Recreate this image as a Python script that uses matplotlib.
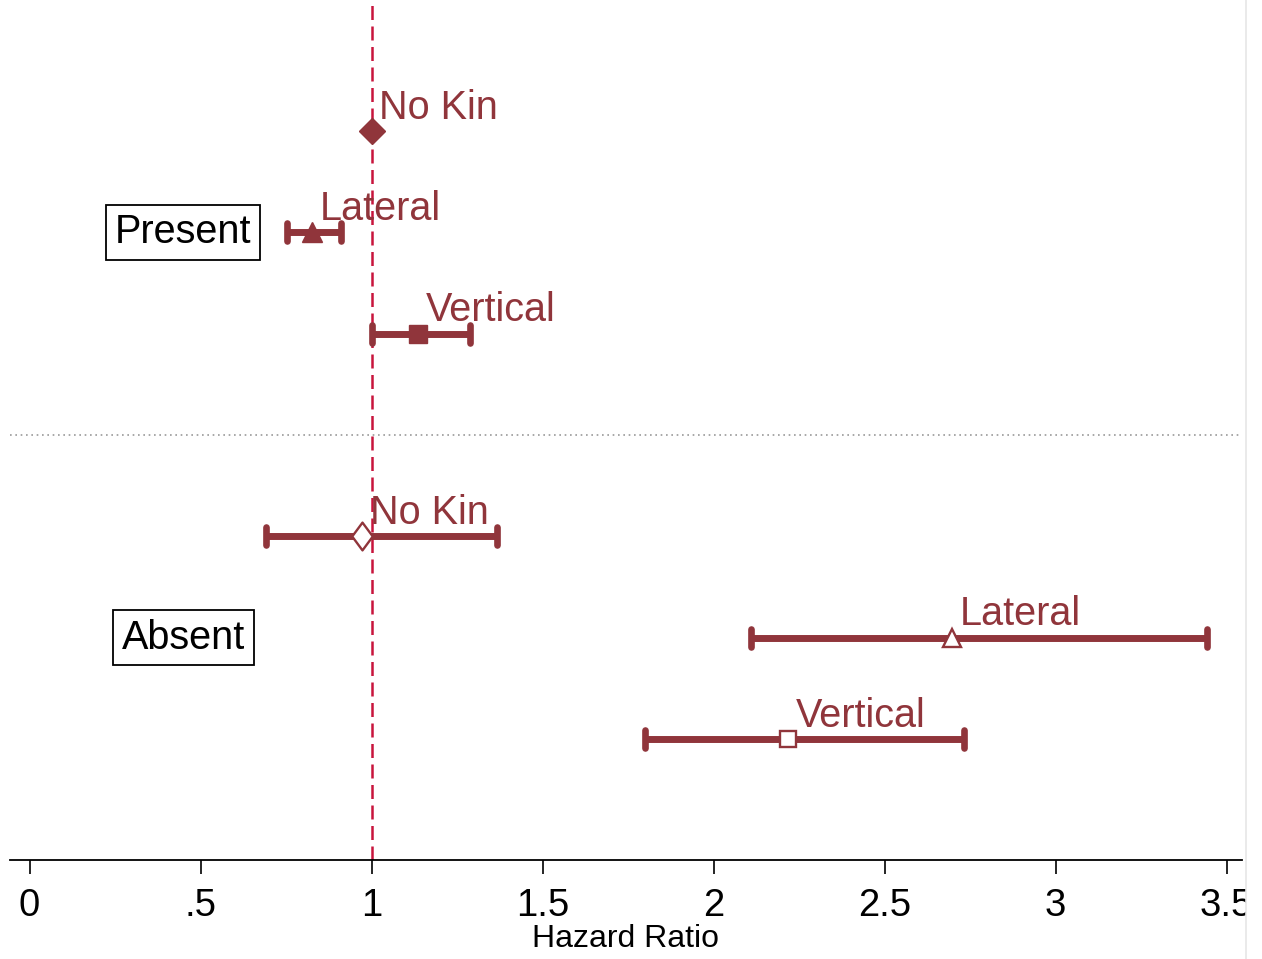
import matplotlib
matplotlib.use("Agg")
import matplotlib.pyplot as plt
from matplotlib.markers import MarkerStyle
from matplotlib.path import Path
from matplotlib.lines import Line2D
from matplotlib.patches import Rectangle
import numpy as np

plt.rcParams['font.family'] = ['Liberation Sans', 'DejaVu Sans']

# ---- data ----
groups = ["Present", "Present", "Present", "Absent", "Absent", "Absent"]
kin_types = ["No Kin", "Lateral", "Vertical", "No Kin", "Lateral", "Vertical"]
hazard_ratio = [1.0, 0.826, 1.136, 0.972, 2.697, 2.218]
ci_low = [np.nan, 0.753, 1.001, 0.691, 2.109, 1.800]
ci_high = [np.nan, 0.911, 1.288, 1.367, 3.443, 2.732]
row_pos = [7, 6, 5, 3, 2, 1]
group_labels = ["Present", "Absent"]
group_label_rows = [6, 2]
separator_row = 4
xticks = [0, 0.5, 1, 1.5, 2, 2.5, 3, 3.5]
xtick_labels = ["0", ".5", "1", "1.5", "2", "2.5", "3", "3.5"]

# ---- style ----
W, H = 1262, 959
col = "#90353B"
ref_col = "#C8143C"
diamond_thin = Path([(0, 1), (0.74, 0), (0, -1), (-0.74, 0), (0, 1)],
                    [Path.MOVETO, Path.LINETO, Path.LINETO, Path.LINETO, Path.CLOSEPOLY])
marker_specs = {
    ("Present", "No Kin"): dict(marker="D", ms=13.5, mfc=col, mec=col, mew=1),
    ("Present", "Lateral"): dict(marker="^", ms=14, mfc=col, mec=col, mew=1),
    ("Present", "Vertical"): dict(marker="s", ms=13, mfc=col, mec=col, mew=1),
    ("Absent", "No Kin"): dict(marker=diamond_thin, ms=20, mfc="white", mec=col, mew=1.7),
    ("Absent", "Lateral"): dict(marker="^", ms=13, mfc="white", mec=col, mew=1.7),
    ("Absent", "Vertical"): dict(marker="s", ms=12, mfc="white", mec=col, mew=1.7),
}

fig = plt.figure(figsize=(W / 100, H / 100), dpi=100)
ax = fig.add_axes([10 / W, 1 - 860 / H, (1242 - 10) / W, 860 / H])
ax.set_xlim((10 - 29.5) / 342, (1242 - 29.5) / 342)
ax.set_ylim(-0.194, 8.293)

# reference line
ax.axvline(1, color=ref_col, lw=1.8, linestyle=(0, (5.6, 2.6)), zorder=1)
# separator
ax.axhline(separator_row, color="#9A9A9A", lw=1.2, linestyle=(0, (1, 2.2)), zorder=1)

cap_marker = MarkerStyle("|", capstyle="round")
for g, k, hr, lo, hi, y in zip(groups, kin_types, hazard_ratio, ci_low, ci_high, row_pos):
    if not np.isnan(lo):
        ax.plot([lo, hi], [y, y], color=col, lw=5, solid_capstyle="butt", zorder=2)
        ax.plot([lo, hi], [y, y], linestyle="none", marker=cap_marker, ms=12.5,
                mew=4.8, mec=col, zorder=2)
    spec = marker_specs[(g, k)]
    ax.plot([hr], [y], linestyle="none", marker=spec["marker"], ms=spec["ms"],
            mfc=spec["mfc"], mec=spec["mec"], mew=spec["mew"], zorder=3)
    ax.annotate(k, (hr, y), xytext=(5.5, 9), textcoords="offset points",
                ha="left", va="baseline", fontsize=28.5, color=col, zorder=4)

for lab, y in zip(group_labels, group_label_rows):
    ax.text(0.45, y, lab, ha="center", va="center", fontsize=28.5, color="black",
            bbox=dict(boxstyle="square,pad=0.22", fc="white", ec="black", lw=1.3),
            zorder=5)

for s in ["left", "top", "right"]:
    ax.spines[s].set_visible(False)
ax.spines["bottom"].set_linewidth(1.3)
ax.set_yticks([])
ax.set_xticks(xticks)
ax.set_xticklabels(xtick_labels, fontsize=27.5)
ax.tick_params(axis="x", length=10, width=1.2, pad=10)
ax.set_xlabel("Hazard Ratio", fontsize=23, labelpad=0)

# crop edge on the right
fig.add_artist(Rectangle((1246 / W, 0), (W - 1246) / W, 1, transform=fig.transFigure,
                         fc="white", ec="none", zorder=10))
fig.add_artist(Line2D([1245.5 / W, 1245.5 / W], [0, 1], transform=fig.transFigure,
                      color="#E6E6E6", lw=1.2, zorder=11))

fig.savefig("out.png", dpi=100)
